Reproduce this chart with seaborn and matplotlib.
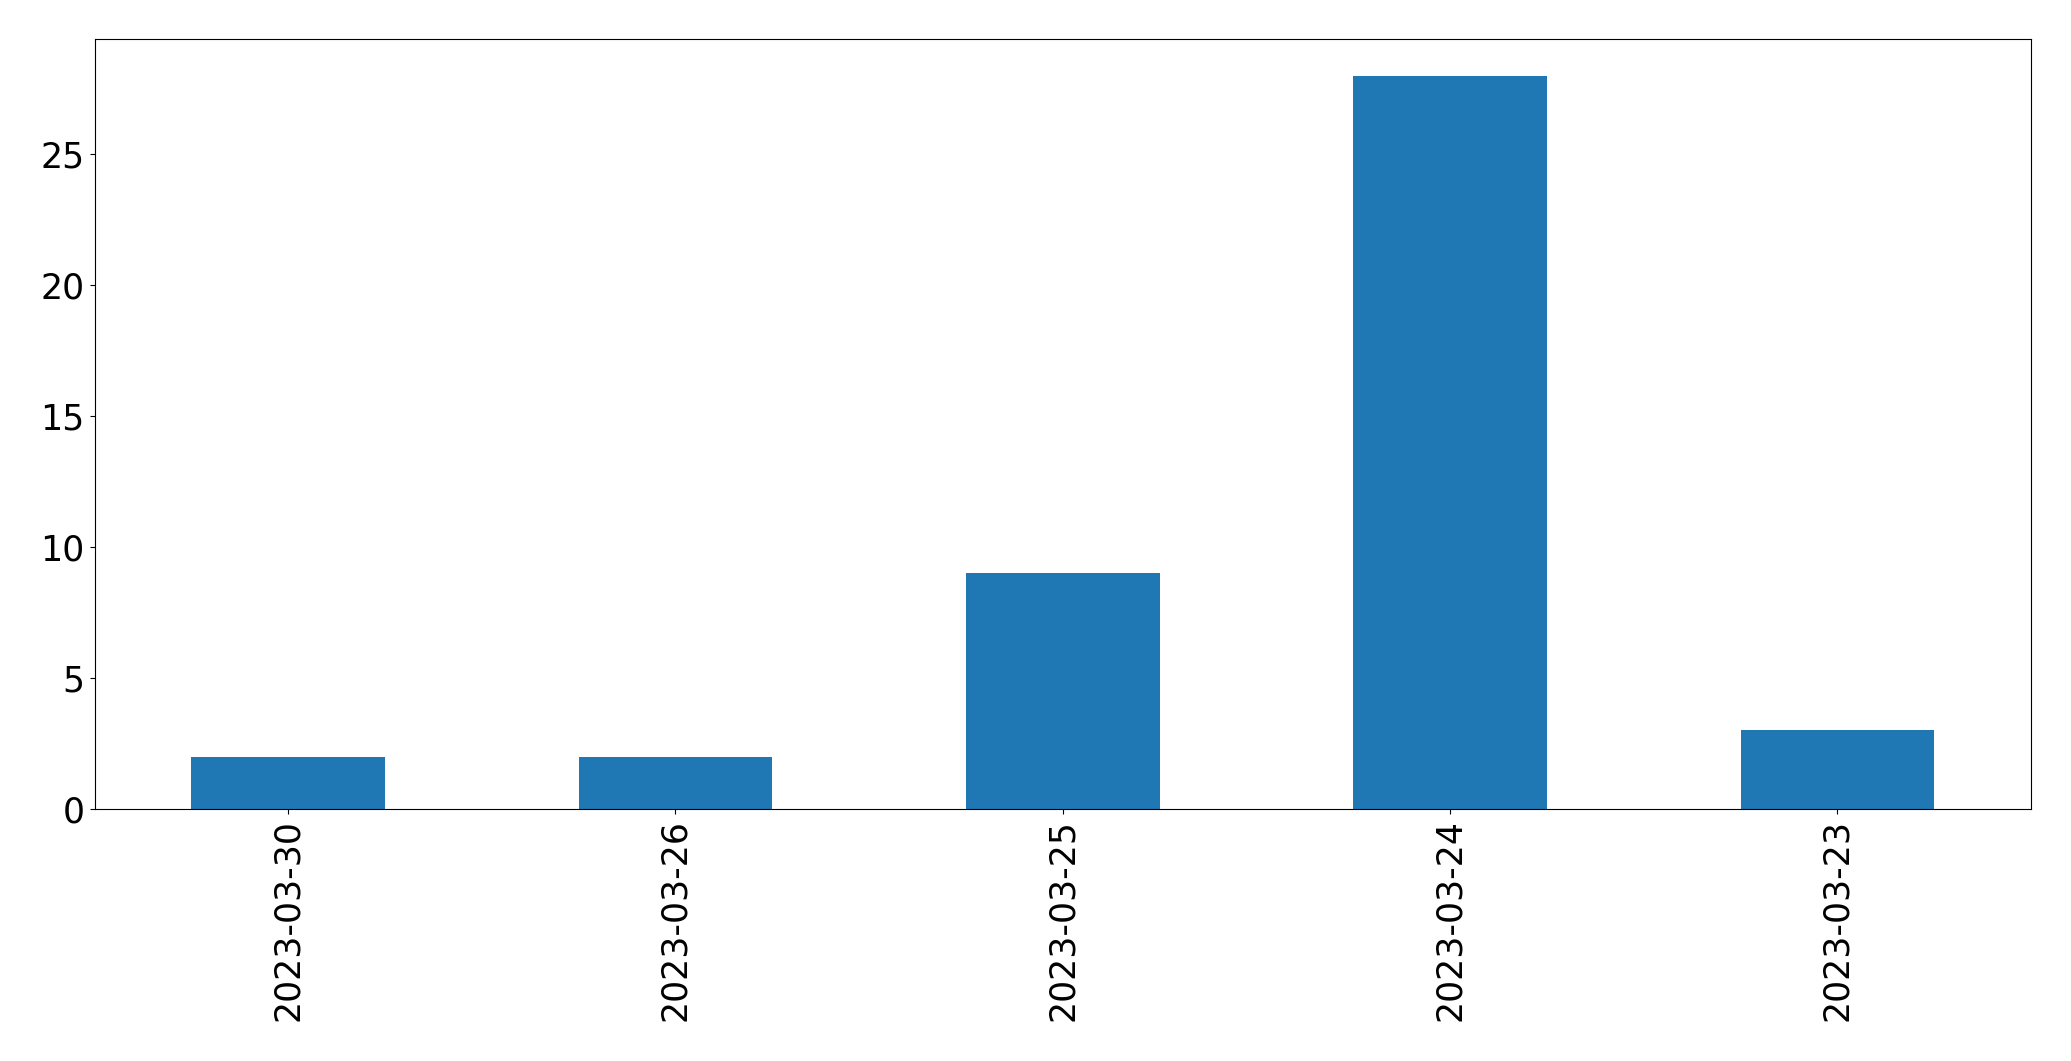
import matplotlib
matplotlib.use("Agg")
import matplotlib.pyplot as plt
import seaborn as sns
import pandas as pd

dates = ["2023-03-30", "2023-03-26", "2023-03-25", "2023-03-24", "2023-03-23"]
counts = [2, 2, 9, 28, 3]

df = pd.DataFrame({"date": dates, "count": counts})

fig = plt.figure(figsize=(20.71, 10.61), dpi=100)
ax = fig.add_axes([94.5 / 2071, 1 - 809 / 1061, (2031 - 94.5) / 2071, (809 - 39.3) / 1061])
sns.barplot(data=df, x="date", y="count", order=dates, color="#1f77b4",
            saturation=1, width=0.5, linewidth=0, ax=ax)
ax.set_xlim(-0.5, len(dates) - 0.5)
ax.set_ylim(0, max(counts) * 1.05)
ax.set_xlabel("")
ax.set_ylabel("")
ax.tick_params(axis="both", labelsize=25)
for lbl in ax.get_xticklabels():
    lbl.set_rotation(90)
for s in ax.spines.values():
    s.set_visible(True)
    s.set_color("black")
fig.savefig("out.png", dpi=100)
